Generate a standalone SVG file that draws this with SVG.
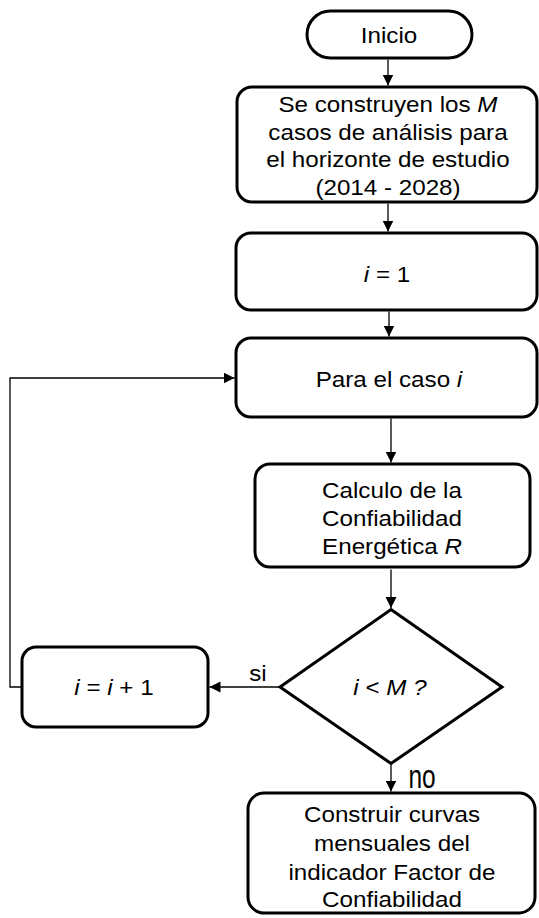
<svg xmlns="http://www.w3.org/2000/svg" width="539" height="918" viewBox="0 0 539 918">
<style>
.box{fill:#fff;stroke:#000;stroke-width:3}
.t{font-family:"Liberation Sans",Arial,sans-serif;font-size:22px;fill:#000;text-anchor:middle;transform-box:fill-box;transform-origin:center;transform:scaleX(1.1)}
.no{font-family:"Liberation Sans",Arial,sans-serif;font-size:34px;fill:#000;text-anchor:middle;transform-box:fill-box;transform-origin:center;transform:scaleX(0.72)}
.it{font-style:italic}
.c{fill:none;stroke:#000;stroke-width:1.3}
</style>
<defs>
<marker id="ah" markerUnits="userSpaceOnUse" markerWidth="12" markerHeight="12" refX="11" refY="5.5" orient="auto">
<path d="M0,0 L11,5.5 L0,11 z" fill="#000"/>
</marker>
</defs>
<rect width="539" height="918" fill="#fff"/>
<g id="connectors">
<line class="c" x1="388" y1="59.5" x2="388" y2="85.5" marker-end="url(#ah)"/>
<line class="c" x1="388" y1="203.5" x2="388" y2="231.5" marker-end="url(#ah)"/>
<line class="c" x1="389" y1="311.5" x2="389" y2="336.5" marker-end="url(#ah)"/>
<line class="c" x1="391" y1="418.5" x2="391" y2="462.5" marker-end="url(#ah)"/>
<line class="c" x1="391" y1="569.5" x2="391" y2="608" marker-end="url(#ah)"/>
<line class="c" x1="391" y1="765" x2="391" y2="791.5" marker-end="url(#ah)"/>
<line class="c" x1="280" y1="687" x2="209.5" y2="687" marker-end="url(#ah)"/>
<polyline class="c" points="22,687 10,687 10,378 234.5,378" marker-end="url(#ah)"/>
<text class="t" x="258" y="681">si</text>
<text class="no" x="422" y="788">no</text>
</g>
<g id="inicio">
<rect class="box" x="307" y="11" width="165" height="47" rx="23.5"/>
<text class="t" x="389" y="43">Inicio</text>
</g>
<g id="construir-casos">
<rect class="box" x="237" y="87" width="300" height="115" rx="15"/>
<text class="t" x="388" y="112">Se construyen los <tspan class="it">M</tspan></text>
<text class="t" x="388" y="140">casos de análisis para</text>
<text class="t" x="388" y="167">el horizonte de estudio</text>
<text class="t" x="388" y="195">(2014 - 2028)</text>
</g>
<g id="i-igual-1">
<rect class="box" x="236" y="233" width="301" height="77" rx="15"/>
<text class="t" x="387" y="282"><tspan class="it">i</tspan> = 1</text>
</g>
<g id="para-caso">
<rect class="box" x="236" y="338" width="301" height="79" rx="15"/>
<text class="t" x="389" y="387">Para el caso <tspan class="it">i</tspan></text>
</g>
<g id="calculo">
<rect class="box" x="255" y="464" width="275" height="103" rx="15"/>
<text class="t" x="392" y="498">Calculo de la</text>
<text class="t" x="392" y="526">Confiabilidad</text>
<text class="t" x="392" y="554">Energética <tspan class="it">R</tspan></text>
</g>
<g id="decision">
<polygon class="box" points="391,609.5 502,687 391,763.5 280,687"/>
<text class="t" x="390" y="695"><tspan class="it">i</tspan> &lt; <tspan class="it">M ?</tspan></text>
</g>
<g id="incremento">
<rect class="box" x="22" y="647" width="186" height="80" rx="14"/>
<text class="t" x="114" y="695"><tspan class="it">i</tspan> = <tspan class="it">i</tspan> + 1</text>
</g>
<g id="curvas">
<rect class="box" x="248" y="793" width="287" height="120" rx="16"/>
<text class="t" x="392" y="822">Construir curvas</text>
<text class="t" x="392" y="851">mensuales del</text>
<text class="t" x="392" y="880">indicador Factor de</text>
<text class="t" x="392" y="907">Confiabilidad</text>
</g>
</svg>
